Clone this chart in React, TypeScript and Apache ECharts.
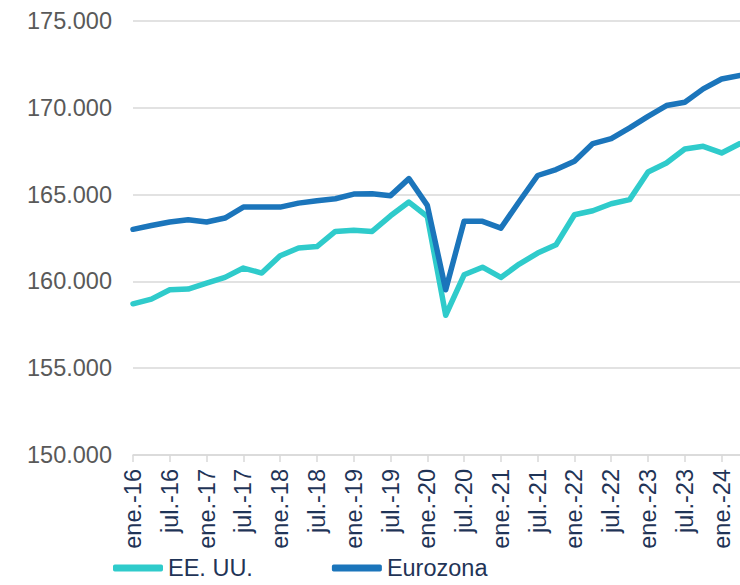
import React, { useEffect, useRef } from "react";
import * as echarts from "echarts";

const quarters = ["ene.", "abr.", "jul.", "oct."];
const years = ["16", "17", "18", "19", "20", "21", "22", "23", "24"];
const categories: string[] = [];
years.forEach((y) => quarters.forEach((q) => categories.push(`${q}-${y}`)));
categories.splice(34);

const eeuu = [
  158710, 158980, 159520, 159560, 159900, 160230, 160770, 160480,
  161480, 161920, 162010, 162880, 162940, 162880, 163780, 164570,
  163740, 158050, 160380, 160820, 160230, 161000, 161630, 162110,
  163840, 164070, 164470, 164710, 166300, 166820, 167630, 167780,
  167400, 167940,
];

const eurozona = [
  163000, 163220, 163420, 163550, 163420, 163650, 164280, 164280,
  164280, 164510, 164650, 164760, 165030, 165050, 164940, 165920,
  164380, 159520, 163460, 163460, 163070, 164600, 166100, 166440,
  166920, 167940, 168220, 168840, 169510, 170130, 170320, 171090,
  171660, 171860,
];

const yMin = 150000;
const yMax = 175000;
const yStep = 5000;

const FONT = "'Liberation Sans', Arial, sans-serif";

export default function App() {
  const ref = useRef<HTMLDivElement>(null);
  useEffect(() => {
    if (!ref.current) return;
    const chart = echarts.init(ref.current, undefined, { renderer: "svg" });
    chart.setOption({
      animation: false,
      textStyle: { fontFamily: FONT },
      grid: { left: 133, top: 21, right: 0, bottom: 130, containLabel: false },
      legend: {
        left: 113,
        top: 556,
        padding: 0,
        itemGap: 79,
        itemWidth: 50,
        itemHeight: 7,
        textStyle: { fontSize: 23.5, color: "#1F3457", fontFamily: FONT, lineHeight: 22 },
        data: [
          { name: "EE. UU.", icon: "roundRect" },
          { name: "Eurozona", icon: "roundRect" },
        ],
      },
      xAxis: {
        type: "category",
        data: categories,
        boundaryGap: false,
        axisLine: { lineStyle: { color: "#D9D9D9", width: 1.5 } },
        axisTick: { interval: 1, length: 7, lineStyle: { color: "#D9D9D9", width: 1.5 } },
        axisLabel: {
          interval: 1,
          rotate: 90,
          margin: 14,
          fontSize: 23.5,
          color: "#1F3457",
          fontFamily: FONT,
        },
      },
      yAxis: {
        type: "value",
        min: yMin,
        max: yMax,
        interval: yStep,
        axisLine: { show: false },
        axisTick: { show: false },
        splitLine: { lineStyle: { color: "#D9D9D9", width: 1.5 } },
        axisLabel: {
          margin: 21,
          fontSize: 23.5,
          color: "#595959",
          fontFamily: FONT,
          formatter: (v: number) => String(v).replace(/\B(?=(\d{3})+(?!\d))/g, "."),
        },
      },
      series: [
        {
          name: "EE. UU.",
          type: "line",
          data: eeuu,
          showSymbol: false,
          symbol: "none",
          itemStyle: { color: "#2FCBCB" },
          lineStyle: { color: "#2FCBCB", width: 5.5, join: "round", cap: "round" },
        },
        {
          name: "Eurozona",
          type: "line",
          data: eurozona,
          showSymbol: false,
          symbol: "none",
          itemStyle: { color: "#1B75BB" },
          lineStyle: { color: "#1B75BB", width: 5.5, join: "round", cap: "round" },
        },
      ],
    });
    return () => chart.dispose();
  }, []);
  return (
    <div
      ref={ref}
      style={{ position: "fixed", left: 0, top: 0, width: 740, height: 585, background: "#fff" }}
    />
  );
}
